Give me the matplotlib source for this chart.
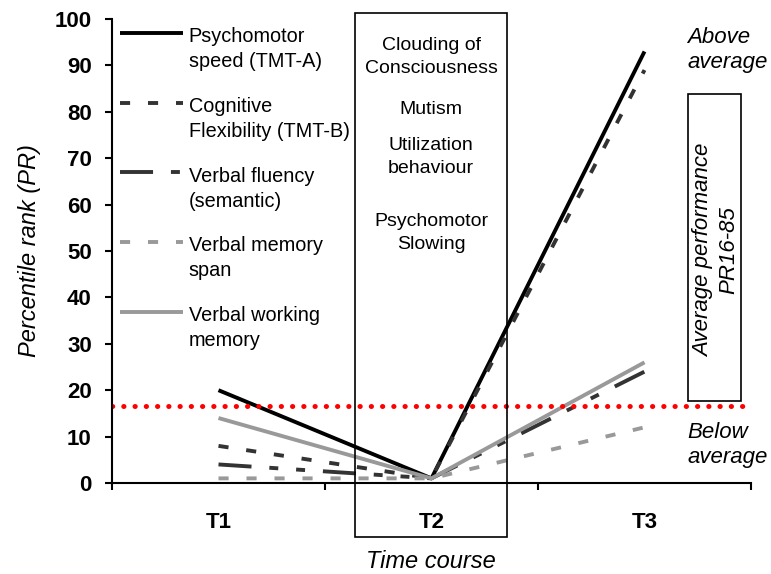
import numpy as np
import matplotlib
matplotlib.use('Agg')
import matplotlib.pyplot as plt
from matplotlib.patches import Rectangle
from matplotlib.legend_handler import HandlerLine2D

plt.rcParams['font.family'] = ['Liberation Sans', 'DejaVu Sans']

# ---- data (percentile ranks) ----
timepoints = ['T1', 'T2', 'T3']
series_names = ['Psychomotor\nspeed (TMT-A)', 'Cognitive\nFlexibility (TMT-B)',
                'Verbal fluency\n(semantic)', 'Verbal memory\nspan', 'Verbal working\nmemory']
tmt_a = [20, 1, 93]
tmt_b = [8, 1, 89]
fluency = [4, 1, 24]
mem_span = [1, 1, 12]
working_mem = [14, 1, 26]
cutoff = 16.5
yticks = list(range(0, 101, 10))
t2_signs = ['Clouding of\nConsciousness', 'Mutism', 'Utilization\nbehaviour', 'Psychomotor\nSlowing']

series = [tmt_a, tmt_b, fluency, mem_span, working_mem]
styles = [dict(color='black', ls='-'),
          dict(color='#333333', ls=(0, (2.6, 4.6))),
          dict(color='#333333', ls=(0, (8.5, 4.6, 2.3, 4.6, 2.3, 4.6))),
          dict(color='#999999', ls=(0, (2.6, 4.6))),
          dict(color='#999999', ls='-')]


class FirstLineHandler(HandlerLine2D):
    # put the legend line next to the first text line, not the middle
    def create_artists(self, *args, **kw):
        arts = super().create_artists(*args, **kw)
        for a in arts:
            a.set_ydata(np.asarray(a.get_ydata()) + 12)
        return arts


W, H = 771, 574
fig = plt.figure(figsize=(W / 100, H / 100), dpi=100)
ax = fig.add_axes([112 / W, (H - 483) / H, (751 - 112) / W, (483 - 19) / H])

x = range(len(timepoints))
for vals, name, st in zip(series, series_names, styles):
    ax.plot(x, vals, lw=2.8, label=name, solid_capstyle='butt', dash_capstyle='butt', **st)

ax.axhline(cutoff, color='red', ls=(0, (0.05, 2.2)), lw=3.6, dash_capstyle='round')

ax.set_xlim(-0.5, 2.5)
ax.set_ylim(0, 100)
ax.set_yticks(yticks)
ax.set_yticklabels([str(v) for v in yticks], fontweight='bold', fontsize=16)
ax.set_xticks([-0.5, 0.5, 1.5, 2.5])
ax.set_xticklabels([])
ax.set_xticks(list(x), minor=True)
ax.set_xticklabels(timepoints, minor=True, fontweight='bold', fontsize=16)
ax.tick_params(axis='x', which='minor', length=0, pad=21)
ax.tick_params(axis='both', which='major', direction='out', length=5, width=1.5, pad=4)
ax.tick_params(axis='y', pad=9.5)
for s in ['top', 'right']:
    ax.spines[s].set_visible(False)
for s in ['left', 'bottom']:
    ax.spines[s].set_linewidth(1.5)

ax.set_ylabel('Percentile rank (PR)', fontstyle='italic', fontsize=17, labelpad=10)
fig.text(431 / W, 1 - 561 / H, 'Time course', fontstyle='italic', fontsize=17,
         ha='center', va='center')

leg = ax.legend(loc='upper left', bbox_to_anchor=(0.0, 1.0), frameon=False, fontsize=14.3,
                handlelength=3.17, handletextpad=0.3, labelspacing=1.3, borderaxespad=0,
                borderpad=0.4, handler_map={plt.Line2D: FirstLineHandler()})
for t in leg.get_texts():
    t.set_linespacing(1.4)

# T2 phase box with clinical signs
fig.add_artist(Rectangle((355 / W, 1 - 537 / H), (507 - 355) / W, (537 - 13) / H,
                         transform=fig.transFigure, fill=False, ec='black', lw=1.2))
for txt, yy in zip(t2_signs, [57, 109, 157, 233]):
    fig.text(431 / W, 1 - yy / H, txt, ha='center', va='center', fontsize=14, linespacing=1.4)

# right side annotations
fig.text(687 / W, 1 - 50 / H, 'Above\naverage', fontstyle='italic', fontsize=16,
         ha='left', va='center', linespacing=1.3)
fig.text(687 / W, 1 - 445 / H, 'Below\naverage', fontstyle='italic', fontsize=16,
         ha='left', va='center', linespacing=1.3)
fig.add_artist(Rectangle((688 / W, 1 - 401 / H), (741 - 688) / W, (401 - 94) / H,
                         transform=fig.transFigure, fill=False, ec='black', lw=1.2))
fig.text(716 / W, 1 - 250 / H, 'Average performance\nPR16-85', fontstyle='italic', fontsize=16,
         ha='center', va='center', rotation=90, linespacing=1.3)

fig.savefig('out.png', dpi=100)
